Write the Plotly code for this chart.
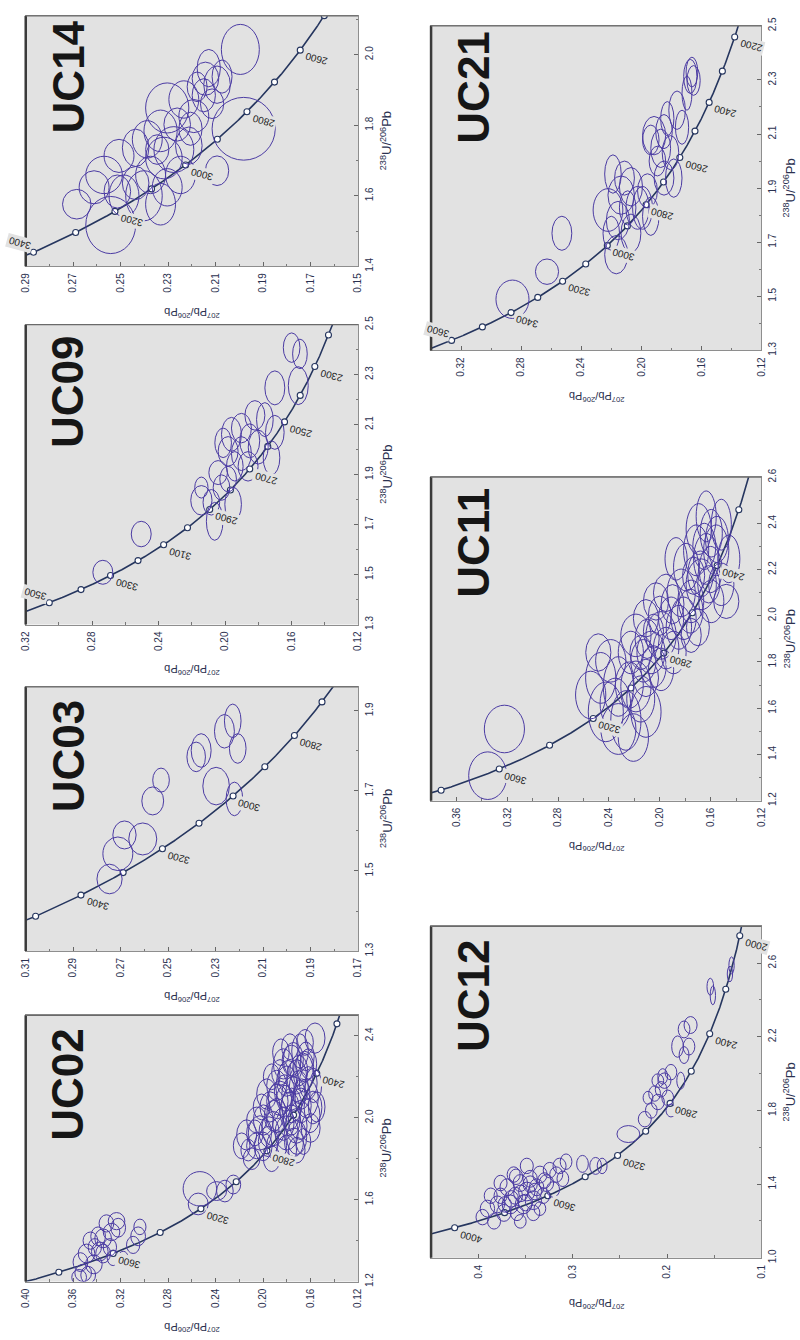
import numpy as np
import plotly.graph_objects as go

# ---------------- data ----------------
# each ellipse: centre 207Pb/206Pb, centre 238U/206Pb, half-width (207/206), half-height (238/206)
uc14_pb = [.2685, .2542, .2570, .2507, .2486, .2437, .2402, .2374, .2332, .2437, .2318, .2388, .2276, .2332, .2304, .2234, .2262, .2213,
           .2248, .2304, .2192, .2150, .2129, .2094, .2143, .2115, .1996, .1982, .2094, .2206, .2346, .2514, .2612, .2178, .2073]
uc14_u = [1.576, 1.517, 1.659, 1.713, 1.600, 1.736, 1.600, 1.659, 1.576, 1.636, 1.707, 1.760, 1.731, 1.784, 1.849, 1.873, 1.802, 1.742,
          1.659, 1.624, 1.826, 1.885, 1.962, 1.915, 1.932, 1.861, 2.015, 1.790, 1.671, 1.790, 1.731, 1.612, 1.624, 1.909, 1.938]
uc14_spb = [.0060, .0105, .0077, .0063, .0063, .0056, .0077, .0063, .0063, .0056, .0077, .0063, .0084, .0070, .0091, .0063, .0056, .0056,
            .0063, .0063, .0063, .0049, .0049, .0056, .0056, .0049, .0080, .0133, .0049, .0049, .0049, .0056, .0063, .0042, .0042]
uc14_su = [.042, .081, .053, .047, .059, .053, .071, .053, .059, .047, .059, .053, .065, .059, .071, .053, .047, .053,
           .053, .053, .047, .047, .053, .053, .047, .042, .071, .089, .042, .047, .042, .047, .047, .042, .047]

uc09_pb = [.2736, .2505, .2143, .2083, .2063, .1952, .2022, .2042, .1982, .2012, .1962, .1902, .1902, .1942, .1852, .1821, .1862, .1801,
           .1761, .1701, .1721, .1701, .1600, .1560, .1550, .1982, .2143]
uc09_u = [1.509, 1.662, 1.797, 1.789, 1.713, 1.781, 1.848, 1.908, 1.993, 2.027, 2.061, 1.984, 2.086, 1.933, 2.035, 2.137, 1.933, 2.010,
          2.120, 2.069, 1.967, 2.247, 2.408, 2.256, 2.383, 1.882, 1.848]
uc09_spb = [.0060, .0060, .0064, .0050, .0050, .0050, .0050, .0056, .0060, .0050, .0060, .0060, .0060, .0050, .0060, .0060, .0060, .0060,
            .0050, .0056, .0050, .0060, .0050, .0060, .0044, .0050, .0040]
uc09_su = [.048, .051, .059, .051, .076, .068, .051, .048, .059, .059, .068, .068, .059, .059, .068, .059, .059, .068,
           .068, .068, .068, .068, .059, .076, .059, .051, .042]

uc03_pb = [.2747, .2712, .2684, .2607, .2565, .2530, .2361, .2382, .2298, .2221, .2263, .2228, .2207]
uc03_u = [1.480, 1.543, 1.590, 1.580, 1.675, 1.727, 1.801, 1.785, 1.712, 1.680, 1.849, 1.875, 1.806]
uc03_spb = [.0053, .0063, .0049, .0059, .0046, .0035, .0042, .0039, .0056, .0035, .0042, .0035, .0035]
uc03_su = [.037, .042, .035, .040, .035, .030, .042, .037, .047, .042, .042, .042, .037]

uc02_pb = [.3516, .3539, .3488, .3426, .3376, .3348, .3277, .3235, .3221, .3455, .3390, .3320, .3053, .3038, .3095, .3348, .3550, .3474,
           .3291, .3418, .3263, .3179,
           .2533, .2547, .2392, .2322, .2251,
           .2181, .2139, .2097, .2055, .2027, .1998, .2055, .1956, .1928, .1914, .1886, .1858, .1942, .1802, .1774, .1745, .1717, .1802,
           .1830, .1886, .1745, .1689, .1661, .1633, .1689, .1605, .1577, .1647, .1774, .1717, .1802, .1886, .1970, .2013, .1858, .1675,
           .1549, .1619, .1759, .1816, .1928, .2069, .2125, .1717, .1661, .1563,
           .1830, .1760, .1700, .1650, .1790, .1880, .1950, .1720, .1680, .1620, .1600, .1850, .1760, .2000, .1910, .1640, .1740,
           .1820, .1700, .1580]
uc02_u = [1.242, 1.295, 1.337, 1.284, 1.347, 1.411, 1.442, 1.495, 1.463, 1.400, 1.421, 1.484, 1.421, 1.467, 1.379, 1.337, 1.221, 1.232,
          1.368, 1.368, 1.316, 1.316,
          1.653, 1.579, 1.642, 1.642, 1.674,
          1.863, 1.916, 1.800, 1.863, 1.926, 1.989, 1.989, 1.884, 1.800, 1.947, 2.011, 2.095, 2.053, 1.926, 2.032, 2.116, 2.200, 2.179,
          2.263, 2.158, 2.284, 2.326, 2.221, 2.095, 1.989, 2.011, 2.158, 2.368, 2.347, 1.905, 1.842, 1.863, 2.116, 2.053, 2.221, 2.116,
          2.053, 2.263, 1.989, 2.095, 2.200, 1.926, 1.842, 1.842, 1.884, 2.389,
          1.970, 2.060, 2.150, 2.250, 2.200, 2.080, 1.930, 1.960, 2.060, 2.170, 1.950, 2.320, 2.280, 1.860, 2.010, 2.300, 1.880,
          2.130, 2.230, 2.050]
uc02_spb = [.0070, .0062, .0070, .0070, .0070, .0070, .0070, .0070, .0062, .0062, .0062, .0062, .0062, .0051, .0056, .0062, .0062, .0062,
            .0056, .0056, .0051, .0042,
            .0141, .0084, .0084, .0070, .0062,
            .0070, .0084, .0070, .0084, .0098, .0084, .0084, .0084, .0070, .0098, .0084, .0098, .0084, .0098, .0084, .0098, .0084, .0084,
            .0084, .0084, .0084, .0070, .0084, .0098, .0098, .0084, .0070, .0070, .0070, .0084, .0084, .0084, .0084, .0070, .0070, .0070,
            .0070, .0070, .0070, .0070, .0070, .0070, .0062, .0070, .0062, .0084,
            .0090, .0085, .0080, .0075, .0085, .0090, .0085, .0090, .0085, .0075, .0080, .0070, .0080, .0075, .0080, .0070, .0080,
            .0085, .0075, .0075]
uc02_su = [.042, .046, .046, .046, .046, .046, .042, .042, .046, .042, .046, .042, .046, .038, .042, .046, .038, .042,
           .042, .042, .038, .032,
           .084, .053, .046, .053, .046,
           .063, .074, .053, .063, .084, .074, .063, .074, .063, .084, .084, .084, .074, .084, .095, .084, .084, .074,
           .074, .074, .084, .084, .095, .095, .095, .084, .084, .063, .063, .084, .074, .074, .074, .063, .063, .074,
           .074, .074, .074, .063, .063, .063, .053, .063, .063, .074,
           .080, .085, .080, .075, .080, .085, .075, .085, .085, .080, .070, .065, .075, .070, .075, .070, .070,
           .080, .075, .080]

uc21_pb = [.2858, .2628, .2529, .2189, .2167, .2222, .2134, .2156, .2069, .2025, .2069, .2091, .1959, .1937, .1915, .1871, .1849, .1827,
           .1806, .1784, .1849, .1893, .1729, .1674, .1652, .1663, .1696, .1762, .1937, .1992, .2112, .2200]
uc21_u = [1.489, 1.591, 1.733, 1.952, 1.654, 1.819, 1.874, 1.780, 1.905, 1.827, 1.733, 1.827, 1.890, 1.796, 2.094, 2.047, 2.109, 2.157,
          2.031, 1.937, 1.937, 2.000, 2.125, 2.313, 2.298, 2.329, 2.251, 2.188, 2.078, 1.827, 1.937, 1.733]
uc21_spb = [.0110, .0077, .0066, .0055, .0077, .0099, .0088, .0077, .0077, .0077, .0066, .0055, .0066, .0055, .0077, .0066, .0055, .0044,
            .0055, .0055, .0066, .0055, .0044, .0044, .0044, .0039, .0033, .0055, .0055, .0066, .0066, .0055]
uc21_su = [.071, .047, .063, .071, .071, .079, .071, .071, .071, .079, .071, .063, .063, .071, .071, .071, .063, .063,
           .063, .071, .063, .055, .063, .063, .055, .055, .063, .071, .055, .079, .063, .063]

uc11_pb = [.3354, .3223, .2544, .2425, .2326, .2267, .2188, .2386, .2484, .2228, .2129, .2109, .2188, .2109, .2069, .1990, .1990, .1911,
           .2030, .1951, .2109, .1892, .2148, .2050, .1832, .1793, .1753, .1714, .1674, .1635, .1595, .1694, .1635, .1556, .1516, .1813,
           .1753, .1872, .1595, .1516, .1734, .1615, .1457, .1477, .2326, .2465, .2208,
           .2240, .2050, .1950, .1850, .1760, .1680, .1600, .1550, .2150, .2000, .1900, .1650, .1700, .2350, .2100]
uc11_u = [1.308, 1.510, 1.657, 1.584, 1.694, 1.547, 1.694, 1.805, 1.841, 1.841, 1.805, 1.584, 1.915, 1.989, 1.841, 1.915, 1.768, 1.989,
          2.062, 2.099, 1.731, 1.841, 1.841, 1.933, 2.099, 2.210, 2.062, 2.283, 2.136, 2.246, 2.062, 2.375, 2.430, 2.283, 2.136, 1.989,
          1.915, 2.246, 2.357, 2.394, 2.173, 2.136, 2.246, 2.062, 1.510, 1.731, 1.473,
          1.700, 1.780, 1.860, 1.950, 2.020, 2.180, 2.200, 2.330, 1.640, 2.000, 2.050, 2.300, 1.950, 1.620, 1.900]
uc11_spb = [.0150, .0158, .0119, .0138, .0119, .0119, .0119, .0119, .0099, .0099, .0099, .0119, .0119, .0099, .0111, .0119, .0099, .0099,
            .0099, .0099, .0099, .0099, .0087, .0079, .0111, .0099, .0099, .0099, .0119, .0099, .0099, .0099, .0079, .0099, .0099, .0099,
            .0079, .0087, .0087, .0079, .0087, .0087, .0087, .0099, .0138, .0119, .0119,
            .0110, .0100, .0100, .0100, .0100, .0100, .0090, .0090, .0110, .0090, .0090, .0090, .0090, .0120, .0095]
uc11_su = [.103, .103, .103, .129, .129, .129, .110, .092, .081, .092, .092, .110, .092, .081, .092, .103, .092, .092,
           .081, .081, .081, .092, .074, .074, .103, .103, .092, .110, .110, .110, .092, .110, .110, .110, .092, .092,
           .074, .092, .103, .110, .081, .081, .103, .074, .110, .110, .103,
           .100, .090, .090, .095, .095, .100, .100, .100, .100, .085, .085, .100, .080, .110, .085]

uc12_pb = [.3955, .3903, .3833, .3798, .3764, .3729, .3694, .3660, .3608, .3590, .3555, .3521, .3486, .3451, .3417, .3382, .3347, .3312,
           .3278, .3243, .3208, .3174, .3139, .3104, .3070, .3868, .3417, .3625, .3486, .3347, .3555, .3764,
           .3550, .3450, .3650, .3400, .3500, .3600, .3300, .3720,
           .2896, .2757, .2688, .2410,
           .2236, .2167, .2098, .2063, .2028, .1993, .1959, .2132, .2046, .2202, .2098, .1855, .1959,
           .1889, .1820, .1768, .1751, .1820, .1542, .1515, .1317, .1334]
uc12_u = [1.221, 1.267, 1.198, 1.290, 1.337, 1.244, 1.383, 1.290, 1.337, 1.244, 1.406, 1.290, 1.360, 1.429, 1.313, 1.383, 1.452, 1.337,
          1.406, 1.476, 1.371, 1.452, 1.499, 1.429, 1.522, 1.337, 1.244, 1.452, 1.499, 1.267, 1.198, 1.406,
          1.350, 1.400, 1.320, 1.360, 1.300, 1.440, 1.420, 1.290,
          1.510, 1.499, 1.499, 1.672,
          1.753, 1.800, 1.846, 1.915, 1.962, 1.869, 2.008, 1.892, 1.985, 1.869, 1.962, 1.962, 1.800,
          2.147, 2.240, 2.147, 2.264, 2.101, 2.472, 2.425, 2.588, 2.541]
uc12_spb = [.0069, .0076, .0069, .0076, .0069, .0076, .0076, .0087, .0076, .0069, .0076, .0087, .0087, .0076, .0087, .0076, .0076, .0069,
            .0076, .0069, .0069, .0069, .0069, .0062, .0062, .0069, .0069, .0069, .0069, .0062, .0062, .0069,
            .0075, .0075, .0075, .0070, .0075, .0070, .0070, .0070,
            .0062, .0062, .0052, .0121,
            .0069, .0062, .0069, .0062, .0069, .0062, .0062, .0062, .0052, .0052, .0062, .0042, .0052,
            .0062, .0062, .0062, .0069, .0052, .0035, .0028, .0028, .0028]
uc12_su = [.042, .046, .042, .046, .042, .046, .046, .051, .046, .042, .046, .051, .051, .046, .051, .046, .046, .042,
           .046, .042, .042, .042, .042, .042, .042, .042, .042, .042, .042, .037, .037, .042,
           .045, .045, .045, .045, .045, .042, .042, .042,
           .046, .046, .042, .046,
           .042, .042, .042, .042, .042, .042, .042, .042, .042, .035, .037, .046, .035,
           .058, .046, .046, .046, .046, .046, .051, .046, .042]

# concordia age ticks (Ma) and labelled ages
uc14_ages = list(range(2400, 3700, 100)); uc14_lab = [3400, 3200, 3000, 2800, 2600]
uc09_ages = list(range(2200, 3800, 100)); uc09_lab = [3500, 3300, 3100, 2900, 2700, 2500, 2300]
uc03_ages = list(range(2600, 3700, 100)); uc03_lab = [3400, 3200, 3000, 2800]
uc02_ages = list(range(2000, 4200, 200)); uc02_lab = [3600, 3200, 2800, 2400]
uc21_ages = list(range(2100, 3900, 100)); uc21_lab = [3600, 3400, 3200, 3000, 2800, 2600, 2400, 2200]
uc11_ages = list(range(2000, 4200, 200)); uc11_lab = [3600, 3200, 2800, 2400]
uc12_ages = list(range(1800, 4600, 200)); uc12_lab = [4000, 3600, 3200, 2800, 2400, 2000]

# ---------------- Tera-Wasserburg concordia ----------------
L238, L235, U85 = 1.55125e-4, 9.8485e-4, 137.88  # per Ma


def tera_wasserburg(t):
    t = np.asarray(t, dtype=float)
    e8 = np.exp(L238 * t)
    e5 = np.exp(L235 * t)
    return 1.0 / (e8 - 1.0), (e5 - 1.0) / (e8 - 1.0) / U85


curve_t = np.arange(1500, 4800, 4)

# ---------------- layout / style ----------------
W, H = 800, 1340
BG = "#e2e2e2"
ELL = "#4b3ba3"
CURVE = "#26365f"
TXT = "#2b3150"
TICKFONT = dict(family="Liberation Sans Narrow, Arial Narrow, Liberation Sans, Arial", size=10, color=TXT)

panels = [
    dict(name="UC14", L=20, R=357, T=7, B=260, xr=[0.29, 0.15], yr=[1.4, 2.11], xt=0.15, xd=0.02, xm=0.01, xf=".2f",
         yt=1.4, yd=0.2, ym=0.1, yf=".1f", lab_off=62, flip=[3400],
         data=(uc14_pb, uc14_u, uc14_spb, uc14_su), ages=uc14_ages, lab=uc14_lab),
    dict(name="UC09", L=20, R=357, T=319, B=622, xr=[0.32, 0.12], yr=[1.3, 2.5], xt=0.12, xd=0.04, xm=0.02, xf=".2f",
         yt=1.3, yd=0.2, ym=0.1, yf=".1f", lab_off=68, flip=[3500],
         data=(uc09_pb, uc09_u, uc09_spb, uc09_su), ages=uc09_ages, lab=uc09_lab),
    dict(name="UC03", L=20, R=357, T=685, B=952, xr=[0.31, 0.17], yr=[1.3, 1.96], xt=0.17, xd=0.02, xm=0.01, xf=".2f",
         yt=1.3, yd=0.2, ym=0.1, yf=".1f", lab_off=70, flip=[],
         data=(uc03_pb, uc03_u, uc03_spb, uc03_su), ages=uc03_ages, lab=uc03_lab),
    dict(name="UC02", L=20, R=357, T=1017, B=1286, xr=[0.40, 0.12], yr=[1.2, 2.5], xt=0.12, xd=0.04, xm=0.02, xf=".2f",
         yt=1.2, yd=0.4, ym=0.2, yf=".1f", lab_off=70, flip=[],
         data=(uc02_pb, uc02_u, uc02_spb, uc02_su), ages=uc02_ages, lab=uc02_lab),
    dict(name="UC21", L=431, R=766, T=17, B=345, xr=[0.34, 0.12], yr=[1.3, 2.5], xt=0.12, xd=0.04, xm=0.02, xf=".2f",
         yt=1.3, yd=0.2, ym=0.1, yf=".1f", lab_off=62, flip=[3600],
         data=(uc21_pb, uc21_u, uc21_spb, uc21_su), ages=uc21_ages, lab=uc21_lab),
    dict(name="UC11", L=431, R=766, T=473, B=800, xr=[0.38, 0.12], yr=[1.2, 2.6], xt=0.12, xd=0.04, xm=0.02, xf=".2f",
         yt=1.2, yd=0.2, ym=0.1, yf=".1f", lab_off=66, flip=[],
         data=(uc11_pb, uc11_u, uc11_spb, uc11_su), ages=uc11_ages, lab=uc11_lab),
    dict(name="UC12", L=431, R=766, T=927, B=1262, xr=[0.45, 0.10], yr=[1.0, 2.8], xt=0.1, xd=0.1, xm=0.05, xf=".1f",
         yt=1.0, yd=0.4, ym=0.2, yf=".1f", lab_off=70, flip=[],
         data=(uc12_pb, uc12_u, uc12_spb, uc12_su), ages=uc12_ages, lab=uc12_lab),
]

fig = go.Figure()
layout = dict(width=W, height=H, margin=dict(l=0, r=0, t=0, b=0), paper_bgcolor="white", plot_bgcolor=BG,
              showlegend=False)
shapes, annotations = [], []

for i, p in enumerate(panels):
    k = "" if i == 0 else str(i + 1)
    xa, ya = "x" + k, "y" + k
    xd = [p["L"] / W, p["R"] / W]
    yd = [1 - p["B"] / H, 1 - p["T"] / H]
    layout["xaxis" + k] = dict(
        domain=xd, range=p["xr"], anchor=ya, side="bottom", tickangle=-90, tickmode="linear", tick0=p["xt"],
        dtick=p["xd"], tickformat=p["xf"], ticks="inside", ticklen=4, tickcolor="#666", tickwidth=1,
        minor=dict(dtick=p["xm"], tick0=p["xt"], ticks="inside", ticklen=2.5, tickcolor="#777"),
        showline=True, mirror=True, linecolor="#8e8e8e", linewidth=1, showgrid=False, zeroline=False,
        tickfont=TICKFONT, ticklabelstandoff=2)
    layout["yaxis" + k] = dict(
        domain=yd, range=p["yr"], anchor=xa, side="right", tickangle=-90, tickmode="linear", tick0=p["yt"],
        dtick=p["yd"], tickformat=p["yf"], ticks="inside", ticklen=4, tickcolor="#666", tickwidth=1,
        minor=dict(dtick=p["ym"], tick0=p["yt"], ticks="inside", ticklen=2.5, tickcolor="#777"),
        showline=True, mirror=True, linecolor="#8e8e8e", linewidth=1, showgrid=False, zeroline=False,
        tickfont=TICKFONT, ticklabelstandoff=2)

    # ellipses
    pb, u, spb, su = p["data"]
    for c_pb, c_u, r_pb, r_u in zip(pb, u, spb, su):
        shapes.append(dict(type="circle", xref=xa, yref=ya, x0=c_pb - r_pb, x1=c_pb + r_pb, y0=c_u - r_u,
                           y1=c_u + r_u, line=dict(color=ELL, width=1), fillcolor="rgba(0,0,0,0)", layer="above"))

    # concordia curve
    cx, cy = tera_wasserburg(curve_t)
    fig.add_trace(go.Scatter(x=cy, y=cx, mode="lines", line=dict(color=CURVE, width=1.6), xaxis=xa, yaxis=ya,
                             hoverinfo="skip"))
    mx, my = tera_wasserburg(p["ages"])
    fig.add_trace(go.Scatter(x=my, y=mx, mode="markers", xaxis=xa, yaxis=ya, hoverinfo="skip",
                             marker=dict(size=6, color="white", line=dict(color=CURVE, width=1.1))))
    lx, ly = tera_wasserburg(p["lab"])
    for age, ux, py in zip(p["lab"], lx, ly):
        fl = age in p["flip"]
        annotations.append(dict(x=py, y=ux, xref=xa, yref=ya, text=str(age), showarrow=False, textangle=-165,
                                xshift=-14 if fl else 16, yshift=9 if fl else -9, bgcolor=BG,
                                font=dict(family="Liberation Sans, Arial", size=10, color="#222")))

    # panel edges (dark left and top edge)
    shapes.append(dict(type="line", xref=xa + " domain", yref=ya + " domain", x0=0, x1=0, y0=0, y1=1,
                       line=dict(color="#3a3a3a", width=2.5), layer="above"))
    shapes.append(dict(type="line", xref=xa + " domain", yref=ya + " domain", x0=0, x1=1, y0=1, y1=1,
                       line=dict(color="#6a6a6a", width=1.2), layer="above"))

    # sample name
    annotations.append(dict(x=(p["L"] + 43) / W, y=1 - (p["T"] + p["lab_off"]) / H, xref="paper", yref="paper",
                            text="<b>%s</b>" % p["name"], showarrow=False, textangle=-90, xanchor="center",
                            yanchor="middle",
                            font=dict(family="Liberation Sans Narrow, Arial Narrow, Liberation Sans, Arial", size=44,
                                      color="#161616")))
    # axis titles (rotated as in the figure)
    annotations.append(dict(x=(xd[0] + xd[1]) / 2, y=yd[0], xref="paper", yref="paper", yshift=-46,
                            text="<sup>207</sup>Pb/<sup>206</sup>Pb", showarrow=False, textangle=180,
                            xanchor="center", yanchor="middle",
                            font=dict(family="Liberation Sans, Arial", size=11, color=TXT)))
    annotations.append(dict(x=xd[1], y=(yd[0] + yd[1]) / 2, xref="paper", yref="paper", xshift=28,
                            text="<sup>238</sup>U/<sup>206</sup>Pb", showarrow=False, textangle=-90,
                            xanchor="center", yanchor="middle",
                            font=dict(family="Liberation Sans Narrow, Arial Narrow, Liberation Sans, Arial", size=13,
                                      color=TXT)))

layout["shapes"] = shapes
layout["annotations"] = annotations
fig.update_layout(**layout)
fig.write_html("out.html")
